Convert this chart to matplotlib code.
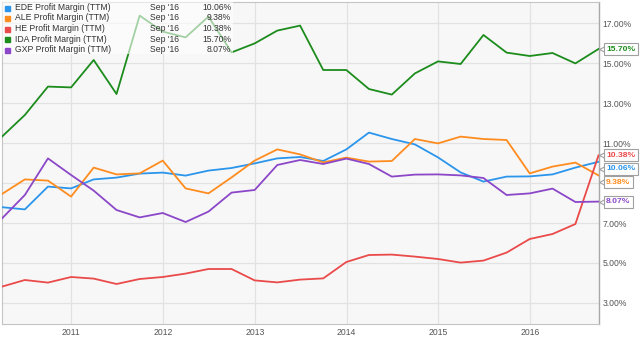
import numpy as np
import pandas as pd
import matplotlib
matplotlib.use('Agg')
import matplotlib.pyplot as plt
import matplotlib.dates as mdates
from matplotlib.transforms import blended_transform_factory, ScaledTranslation
from matplotlib.patches import Rectangle

plt.rcParams['font.family'] = ['Liberation Sans', 'DejaVu Sans']

# Quarterly profit margin (TTM), Mar 2010 - Sep 2016
dates = pd.date_range('2010-03-31', periods=27, freq='QE')

ede = [7.79, 7.68, 8.82, 8.73, 9.18, 9.27, 9.47, 9.52, 9.37, 9.62, 9.75, 9.98, 10.23, 10.30,
       10.10, 10.68, 11.52, 11.20, 10.93, 10.28, 9.53, 9.07, 9.32, 9.33, 9.43, 9.77, 10.06]
ale = [8.45, 9.18, 9.12, 8.32, 9.77, 9.43, 9.48, 10.12, 8.73, 8.48, 9.28, 10.12, 10.68, 10.43,
       10.03, 10.27, 10.07, 10.10, 11.20, 10.98, 11.32, 11.20, 11.15, 9.48, 9.82, 10.02, 9.38]
he = [3.82, 4.15, 4.02, 4.30, 4.22, 3.95, 4.20, 4.30, 4.47, 4.70, 4.70, 4.13, 4.03, 4.17,
      4.23, 5.05, 5.40, 5.42, 5.32, 5.20, 5.02, 5.12, 5.52, 6.20, 6.45, 6.95, 10.38]
ida = [11.32, 12.40, 13.82, 13.78, 15.15, 13.45, 17.37, 16.57, 16.28, 17.32, 15.53, 15.98, 16.62, 16.87,
       14.65, 14.65, 13.70, 13.42, 14.48, 15.08, 14.95, 16.40, 15.52, 15.35, 15.50, 14.98, 15.70]
gxp = [7.23, 8.40, 10.23, 9.40, 8.62, 7.65, 7.28, 7.50, 7.05, 7.57, 8.52, 8.65, 9.90, 10.15,
       9.95, 10.22, 9.95, 9.32, 9.42, 9.43, 9.38, 9.25, 8.40, 8.48, 8.72, 8.05, 8.07]

names = ['EDE Profit Margin (TTM)', 'ALE Profit Margin (TTM)', 'HE Profit Margin (TTM)',
         'IDA Profit Margin (TTM)', 'GXP Profit Margin (TTM)']
series = [ede, ale, he, ida, gxp]
colors = ['#2b95ec', '#ff8c1f', '#ea4a4a', '#1c8c1c', '#8b47c8']
last_label = "Sep '16"
yticks = [3, 5, 7, 9, 11, 13, 15, 17]

fig = plt.figure(figsize=(6.4, 3.44), dpi=100)
ax = fig.add_axes([2 / 640, 20 / 344, 596.5 / 640, 322 / 344])
ax.set_facecolor('#f7f7f7')

for vals, c in zip(series, colors):
    ax.plot(dates, vals, color=c, lw=1.3, zorder=3)

ax.set_xlim(dates[0], dates[-1])
ax.set_ylim(1.95, 18.05)

# grid
ax.xaxis.set_major_locator(mdates.YearLocator())
ax.xaxis.set_major_formatter(mdates.DateFormatter('%Y'))
ax.grid(True, color='#e2e2e2', lw=0.9, zorder=0)
ax.set_axisbelow(True)
ax.tick_params(axis='both', length=0, labelsize=6.2, labelcolor='#555555')
ax.tick_params(axis='x', pad=3)
ax.yaxis.tick_right()
ax.tick_params(axis='y', pad=3)

for s in ['left', 'bottom', 'top']:
    ax.spines[s].set_color('#c4c4c4')
    ax.spines[s].set_linewidth(0.8)
ax.spines['right'].set_color('#a8a8a8')
ax.spines['right'].set_linewidth(1.0)

# end-value labels, pushed apart so they don't overlap
last_vals = [v[-1] for v in series]
order = np.argsort(last_vals)[::-1]
gap = 0.67
label_pos = {}
prev = None
for idx in order:
    y = last_vals[idx]
    if prev is not None and prev - y < gap:
        y = prev - gap
    label_pos[idx] = y
    prev = y

ylabels = []
for t in yticks:
    near = any(abs(t - p) < 0.5 for p in label_pos.values())
    ylabels.append('' if near else '%.2f%%' % t)
ax.set_yticks(yticks)
ax.set_yticklabels(ylabels)

trans = blended_transform_factory(ax.transAxes, ax.transData)
for idx, y in label_pos.items():
    ax.annotate('%.2f%%' % last_vals[idx], xy=(1, y), xycoords=trans,
                xytext=(5.5, 0), textcoords='offset points', ha='left', va='center',
                fontsize=6.1, fontweight='bold', color=colors[idx], zorder=10,
                annotation_clip=False,
                bbox=dict(boxstyle='square,pad=0.3', fc='white', ec='#a0a0a0', lw=0.8))
    tri = trans + ScaledTranslation(3.5 / 100, 0, fig.dpi_scale_trans)
    ax.plot([1], [y], marker='<', ms=4.5, mfc='white', mec='#a0a0a0', mew=0.8,
            transform=tri, clip_on=False, zorder=9)

# legend block
px_w = ax.get_position().width * 640
px_h = ax.get_position().height * 344
ax.add_patch(Rectangle((0, 1 - 52 / px_h), 231 / px_w, 52 / px_h, transform=ax.transAxes,
                       fc='white', alpha=0.6, ec='none', zorder=5))
for i, (name, c, vals) in enumerate(zip(names, colors, series)):
    dy = -(5.5 + 10.5 * i) * 0.72
    ax.plot([0], [1], marker='s', ms=3.6, color=c, zorder=6, clip_on=False,
            transform=ax.transAxes + ScaledTranslation(5 / 100, dy / 72, fig.dpi_scale_trans))
    ax.annotate(name, xy=(0, 1), xycoords='axes fraction', xytext=(9.2, dy),
                textcoords='offset points', ha='left', va='center', fontsize=6.2,
                color='#333333', zorder=6)
    ax.annotate(last_label, xy=(0, 1), xycoords='axes fraction', xytext=(106.5, dy),
                textcoords='offset points', ha='left', va='center', fontsize=6.2,
                color='#333333', zorder=6)
    ax.annotate('%.2f%%' % vals[-1], xy=(0, 1), xycoords='axes fraction', xytext=(165, dy),
                textcoords='offset points', ha='right', va='center', fontsize=6.2,
                color='#333333', zorder=6)

fig.savefig('out.png', dpi=100)
